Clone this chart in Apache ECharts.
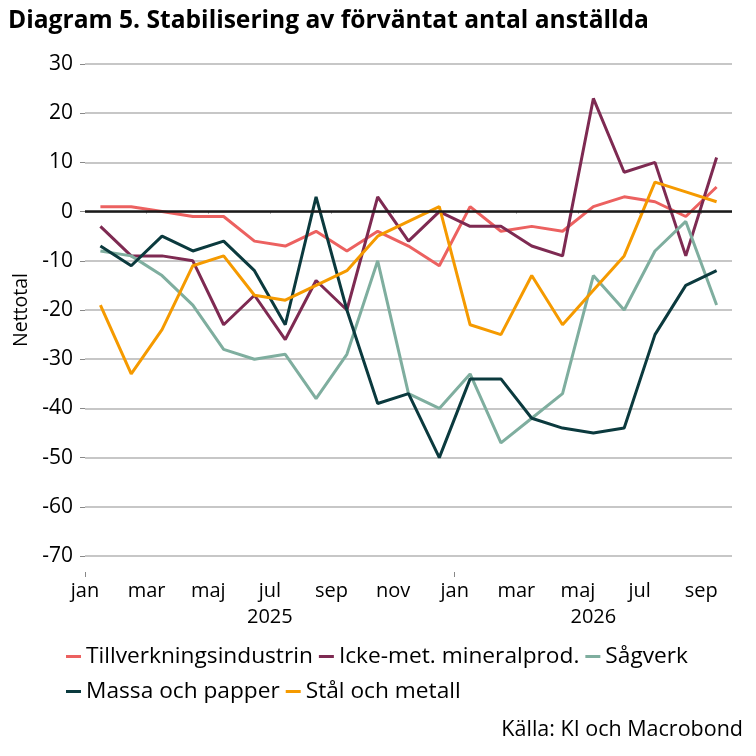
<!DOCTYPE html>
<html>
<head>
<meta charset="utf-8">
<script src="https://cdn.jsdelivr.net/npm/echarts@6/dist/echarts.min.js"></script>
<style>
html,body{margin:0;padding:0;background:#fff;}
#chart{width:756px;height:756px;}
</style>
</head>
<body>
<div id="chart"></div>
<script>
// Months: jan 2025 .. sep 2026 (21 monthly observations)
var monthCount = 21;
var tickMonthLabels = ['jan','mar','maj','jul','sep','nov','jan','mar','maj','jul','sep'];
var yearLabels = ['2025','2026'];

var tillverkning = [1,1,0,-1,-1,-6,-7,-4,-8,-4,-7,-11,1,-4,-3,-4,1,3,2,-1,5];
var ickeMet = [-3,-9,-9,-10,-23,-17,-26,-14,-20,3,-6,0,-3,-3,-7,-9,23,8,10,-9,11];
var sagverk = [-8,-9,-13,-19,-28,-30,-29,-38,-29,-10,-37,-40,-33,-47,-42,-37,-13,-20,-8,-2,-19];
var massa = [-7,-11,-5,-8,-6,-12,-23,3,-20,-39,-37,-50,-34,-34,-42,-44,-45,-44,-25,-15,-12];
var stal = [-19,-33,-24,-11,-9,-17,-18,-15,-12,-5,-2,1,-23,-25,-13,-23,-16,-9,6,4,2];

var seriesNames = ['Tillverkningsindustrin','Icke-met. mineralprod.','Sågverk','Massa och papper','Stål och metall'];
var seriesColors = ['#EC6160','#7E2A52','#7FAE9F','#0B3A3E','#F59A00'];
var seriesValues = [tillverkning, ickeMet, sagverk, massa, stal];

var FONT = 'Open Sans';

// x positions: month i spans [i, i+1]; observation at mid-month
function toPairs(arr){ return arr.map(function(v,i){ return [i+0.5, v]; }); }

var labelVals = tickMonthLabels.map(function(_,k){ return k*2; });
var minorTickVals = labelVals.filter(function(v){ return v !== 0 && v !== 12; });

var series = seriesValues.map(function(vals, idx){
  var s = {
    name: seriesNames[idx],
    type: 'line',
    xAxisIndex: 0,
    yAxisIndex: 0,
    data: toPairs(vals),
    showSymbol: false,
    symbol: 'none',
    lineStyle: {color: seriesColors[idx], width: 3},
    itemStyle: {color: seriesColors[idx]},
    animation: false
  };
  if (idx === 0) {
    s.markLine = {
      silent: true,
      symbol: 'none',
      label: {show: false},
      lineStyle: {color: '#1a1a1a', width: 2.5, type: 'solid'},
      data: [{yAxis: 0}]
    };
  }
  return s;
});

var chart = echarts.init(document.getElementById('chart'), null, {renderer: 'canvas'});
chart.setOption({
  animation: false,
  backgroundColor: '#fff',
  textStyle: {fontFamily: FONT},
  title: [
    {text: 'Diagram 5. Stabilisering av förväntat antal anställda', left: 8, top: 8, padding: 0,
     textStyle: {fontFamily: FONT, fontSize: 24.6, fontWeight: 'bold', color: '#000'}},
    {text: 'Källa: KI och Macrobond', right: 13, top: 719, padding: 0,
     textStyle: {fontFamily: FONT, fontSize: 21.5, fontWeight: 'normal', color: '#000'}}
  ],
  legend: [
    {data: seriesNames.slice(0,3), left: 66, top: 645, padding: 0, itemWidth: 15, itemHeight: 3, itemGap: 6,
     icon: 'rect', textStyle: {fontFamily: FONT, fontSize: 22.7, color: '#000'}, selectedMode: false},
    {data: seriesNames.slice(3), left: 66, top: 680, padding: 0, itemWidth: 15, itemHeight: 3, itemGap: 6,
     icon: 'rect', textStyle: {fontFamily: FONT, fontSize: 22.7, color: '#000'}, selectedMode: false}
  ],
  grid: {left: 85, right: 24, top: 64, bottom: 200, containLabel: false},
  xAxis: [
    {type: 'value', min: 0, max: monthCount, position: 'bottom', offset: 16,
     axisLine: {show: false}, splitLine: {show: false},
     axisTick: {show: true, length: 2, customValues: minorTickVals, lineStyle: {color: '#888', width: 1}},
     axisLabel: {show: true, customValues: labelVals, margin: 9,
       fontFamily: FONT, fontSize: 20, color: '#000',
       formatter: function(v){ var k = Math.round(v/2); return tickMonthLabels[k] || ''; }}
    },
    {type: 'value', min: 0, max: monthCount, position: 'bottom', offset: 16,
     axisLine: {show: false}, splitLine: {show: false},
     axisTick: {show: true, length: 5, customValues: [0, 12], lineStyle: {color: '#888', width: 1}},
     axisLabel: {show: true, customValues: [6, 16.5], margin: 35,
       fontFamily: FONT, fontSize: 20, color: '#000',
       formatter: function(v){ return v < 12 ? yearLabels[0] : yearLabels[1]; }}
    }
  ],
  yAxis: [
    {type: 'value', min: -70, max: 30, interval: 10,
     name: 'Nettotal', nameLocation: 'middle', nameRotate: 90, nameGap: 54,
     nameTextStyle: {fontFamily: FONT, fontSize: 19.5, color: '#000'},
     axisLine: {show: false},
     axisTick: {show: true, length: 5, lineStyle: {color: '#888', width: 1}},
     axisLabel: {margin: 12, fontFamily: FONT, fontSize: 21, color: '#000'},
     splitLine: {show: true, lineStyle: {color: '#b4b4b4', width: 1.5}}
    }
  ],
  series: series
});
</script>
</body>
</html>
